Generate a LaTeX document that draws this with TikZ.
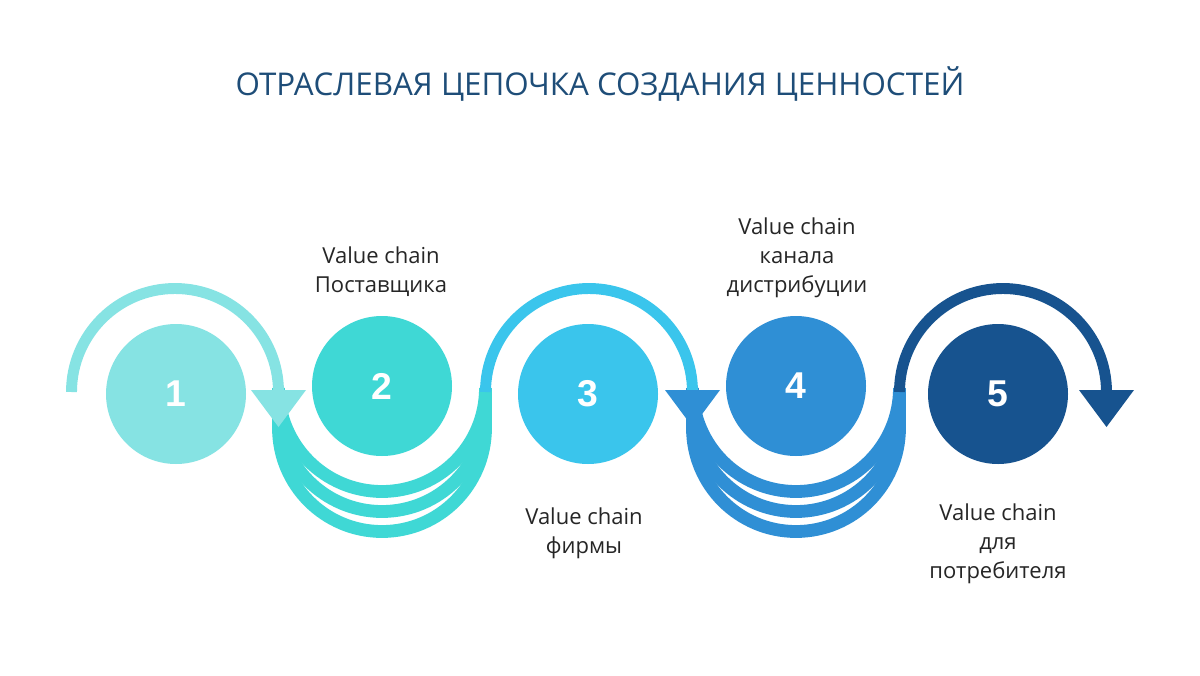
\documentclass[tikz,border=0pt]{standalone}
\usepackage{fontspec}
\setmainfont{Open Sans}
\newfontfamily\numfont{Liberation Sans}
\usetikzlibrary{calc}
\definecolor{aqua}{HTML}{86E3E3}
\definecolor{tealband}{HTML}{3FD8D5}
\definecolor{sky}{HTML}{3AC5EC}
\definecolor{midblue}{HTML}{2F8FD5}
\definecolor{navy}{HTML}{17538F}
\definecolor{titleblue}{HTML}{1E4D78}
\definecolor{txtgray}{HTML}{262626}

\begin{document}
\begin{tikzpicture}[
  x=0.75pt, y=0.75pt,
  numdisc/.style={
    circle, fill=#1, minimum size=105pt, inner sep=0pt,
    font=\numfont\fontsize{28}{30}\selectfont\bfseries, text=white
  },
  toparc/.style={draw=#1, line width=8.2pt},
  lowband/.style={draw=#1, line width=9.6pt},
  labeltext/.style={
    font=\fontsize{16.5}{21.75}\selectfont, text=txtgray, align=center
  },
]

% Background
\fill[white] (0,0) rectangle (1200,-675);
\useasboundingbox (0,0) rectangle (1200,-675);

% Title
\node[font=\fontsize{23.5}{28}\selectfont, text=titleblue] (title) at (600,-84)
  {ОТРАСЛЕВАЯ ЦЕПОЧКА СОЗДАНИЯ ЦЕННОСТЕЙ};

% =============================================
% Circles
% =============================================
\node[numdisc=aqua]    (c1) at (176,-394) {1};
\node[numdisc=tealband](c2) at (382,-386) {2};
\node[numdisc=sky]     (c3) at (588,-394) {3};
\node[numdisc=midblue] (c4) at (796,-386) {4};
\node[numdisc=navy]    (c5) at (998,-394) {5};

% Loop centres
\coordinate (o1) at (175,-392);
\coordinate (o2) at (382,-388);
\coordinate (o3) at (589,-392);
\coordinate (o4) at (796,-388);
\coordinate (o5) at (1003,-392);

% =============================================
% Lower bands (three stacked arcs each)
% =============================================
\foreach \k in {0,1,2} {
  \draw[lowband=tealband] ($(o2)+(-103.5,0)$) -- ++(0,{-20*\k})
    arc[start angle=180, end angle=360, radius=103.5] -- ++(0,{20*\k});
  \draw[lowband=midblue] ($(o4)+(-103.5,0)$) -- ++(0,{-20*\k})
    arc[start angle=180, end angle=360, radius=103.5] -- ++(0,{20*\k});
}

% =============================================
% Upper arcs
% =============================================
\draw[toparc=aqua] ($(o1)+(-103.5,0)$)
  arc[start angle=180, end angle=0, radius=103.5] coordinate (e1);
\draw[toparc=sky] ($(o3)+(-103.5,0)$)
  arc[start angle=180, end angle=0, radius=103.5] coordinate (e3);
\draw[toparc=navy] ($(o5)+(-103.5,0)$)
  arc[start angle=180, end angle=0, radius=103.5] coordinate (e5);

% Arrow heads
\fill[aqua] ($(e1)+(-27.5,2)$) -- ($(e1)+(27.5,2)$) -- ($(e1)+(0,-35)$) -- cycle;
\fill[midblue] ($(e3)+(-27.5,2)$) -- ($(e3)+(27.5,2)$) -- ($(e3)+(0,-35)$) -- cycle;
\fill[navy] ($(e5)+(-27.5,2)$) -- ($(e5)+(27.5,2)$) -- ($(e5)+(0,-35)$) -- cycle;

% =============================================
% Labels
% =============================================
\node[labeltext] (t2) at (381,-272) {Value chain\\Поставщика};
\node[labeltext] (t3) at (584,-533) {Value chain\\фирмы};
\node[labeltext] (t4) at (797,-258) {Value chain\\канала\\дистрибуции};
\node[labeltext] (t5) at (998,-544) {Value chain\\для\\потребителя};

\end{tikzpicture}
\end{document}
